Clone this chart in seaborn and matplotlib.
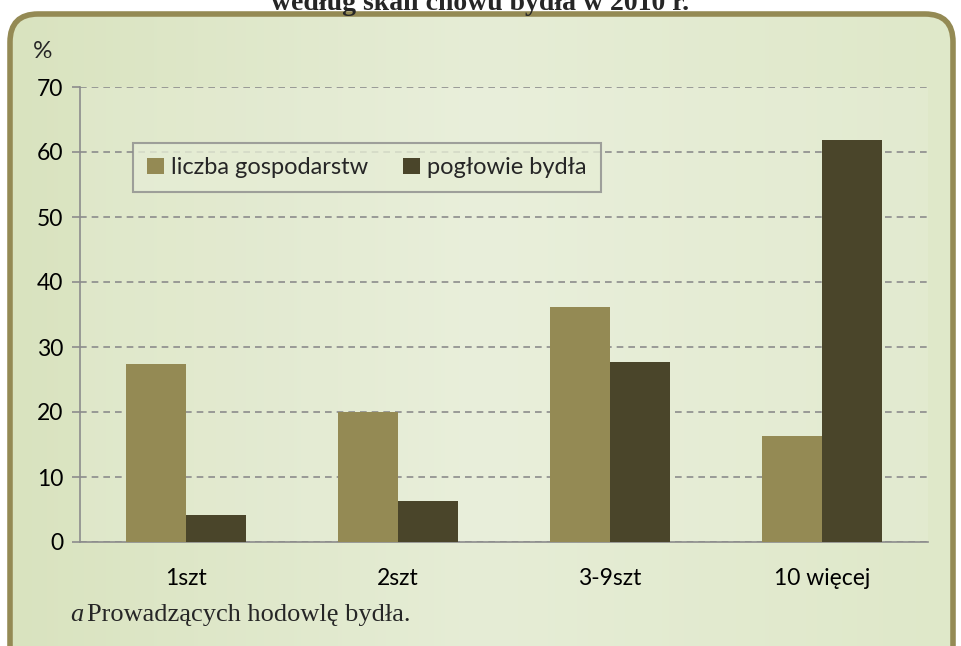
import matplotlib
matplotlib.use("Agg")
import matplotlib.pyplot as plt
import seaborn as sns
import pandas as pd
import numpy as np
from matplotlib.patches import FancyBboxPatch

# data
categories = ["1szt", "2szt", "3-9szt", "10 więcej"]
series_names = ["liczba gospodarstw", "pogłowie bydła"]
farms = [27.4, 20.0, 36.2, 16.3]
cattle = [4.2, 6.3, 27.7, 61.8]
colors = ["#948a54", "#4a452a"]

df = pd.DataFrame({
    "kategoria": categories * 2,
    "seria": [series_names[0]] * 4 + [series_names[1]] * 4,
    "wartosc": farms + cattle,
})

sns.set_theme(style="white")
plt.rcParams["font.family"] = ["Lato", "DejaVu Sans"]

fig = plt.figure(figsize=(9.61, 6.46), dpi=100)
fig.patch.set_facecolor("white")

# rounded frame with a soft green gradient
bg = fig.add_axes([0, 0, 1, 1])
bg.set_xlim(0, 961)
bg.set_ylim(0, 646)
bg.axis("off")
frame = FancyBboxPatch((10, -30), 943, 662, boxstyle="round,pad=0,rounding_size=28",
                       facecolor="none", edgecolor="#948a54", linewidth=4, zorder=3)
bg.add_patch(frame)
grad = np.linspace(0, 1, 256).reshape(1, -1)
img = bg.imshow(grad, extent=(10, 953, -30, 632), aspect="auto",
                cmap=matplotlib.colors.LinearSegmentedColormap.from_list(
                    "g", ["#d9e3bf", "#e6edd6", "#dfe8c9"]), zorder=1)
img.set_clip_path(frame)

ax = fig.add_axes([80 / 961, 104 / 646, 848 / 961, 455 / 646])
ax.set_facecolor((1, 1, 1, 0.12))

sns.barplot(data=df, x="kategoria", y="wartosc", hue="seria", palette=colors,
            width=0.57, ax=ax, saturation=1, zorder=3, linewidth=0)

ax.set_ylim(0, 70)
ax.set_xlim(-0.5, 3.5)
ax.set_yticks(range(0, 71, 10))
ax.yaxis.grid(True, linestyle=(0, (4, 3)), color="#8c8c8c", linewidth=1.2)
ax.set_axisbelow(True)
ax.set_xlabel("")
ax.set_ylabel("")
for s in ["top", "right"]:
    ax.spines[s].set_visible(False)
for s in ["left", "bottom"]:
    ax.spines[s].set_color("#8c8c8c")
    ax.spines[s].set_linewidth(1.2)

ax.tick_params(axis="x", which="major", length=0, pad=19, labelsize=16.5, colors="black")
ax.set_xticks([-0.5, 0.5, 1.5, 2.5, 3.5], minor=True)
ax.tick_params(axis="x", which="minor", length=6, color="#8c8c8c", width=1.2, direction="out")
ax.tick_params(axis="y", length=6, color="#8c8c8c", width=1.2, direction="out",
               labelsize=16.5, pad=6, colors="black")
ax.tick_params(axis="y", left=True)

leg = ax.legend(loc="upper left", bbox_to_anchor=(0.0625, 0.877), ncol=2,
                frameon=True, fancybox=False, fontsize=17, handlelength=0.7,
                handleheight=0.7, handletextpad=0.3, columnspacing=1.5,
                borderpad=0.6, borderaxespad=0)
leg.get_frame().set_edgecolor("#8c8c8c")
leg.get_frame().set_facecolor("#e6edd5")
leg.get_frame().set_linewidth(1.5)

fig.text(33 / 961, 1 - 52 / 646, "%", fontsize=17.5, va="center", ha="left")
fig.text(0.5, 1 - 3 / 646, "według skali chowu bydła w 2010 r.",
         family=["Liberation Serif", "DejaVu Serif"], fontweight="bold",
         fontsize=20, ha="center", va="center")
fig.text(70 / 961, 1 - 615 / 646, "a", family=["Liberation Serif", "DejaVu Serif"],
         fontstyle="italic", fontsize=19, va="center", ha="left")
fig.text(87 / 961, 1 - 615 / 646, "Prowadzących hodowlę bydła.",
         family=["Liberation Serif", "DejaVu Serif"], fontsize=19,
         va="center", ha="left")

fig.savefig("out.png", dpi=100)
